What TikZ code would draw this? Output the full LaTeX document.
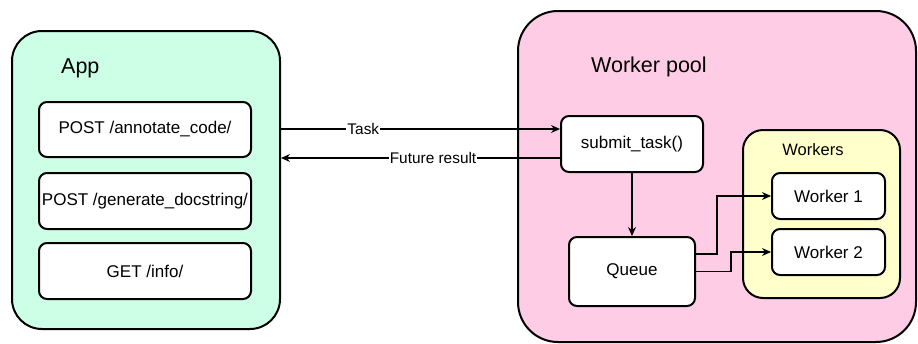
\documentclass[tikz,border=0pt]{standalone}
\usepackage{fontspec}
\setmainfont{Liberation Sans}
\usetikzlibrary{calc,arrows.meta}
\definecolor{mint}{HTML}{CCFFE6}
\definecolor{pinkfill}{HTML}{FFCCE6}
\definecolor{yellowfill}{HTML}{FFFFCC}
\tikzset{
  group/.style={draw=black, line width=2pt, rounded corners=#1},
  group/.default=30pt,
  boxnode/.style={draw=black, fill=white, line width=2pt, rounded corners=8pt, inner sep=0pt,
    font=\fontsize{17}{19}\selectfont},
  title/.style={font=\fontsize{21.5}{24}\selectfont, inner sep=0pt, anchor=west},
  arr/.style={line width=1.1pt, -{Stealth[length=9pt,width=8pt]}},
  elabel/.style={fill=white, inner sep=1pt, font=\fontsize{15.4}{17}\selectfont},
}
\begin{document}
\begin{tikzpicture}[x=1pt,y=-1pt]
\useasboundingbox (0,0) rectangle (918,343);
% App group
\node[group, fill=mint, minimum width=268pt, minimum height=298pt] (App) at (146,180) {};
\node[title] (apptitle) at (61,68) {App};
\node[boxnode, minimum width=212pt, minimum height=55pt] (b1) at (145,129.5) {POST /annotate\_code/};
\node[boxnode, minimum width=212pt, minimum height=56pt] (b2) at (145,201) {POST /generate\_docstring/};
\node[boxnode, minimum width=212pt, minimum height=56pt] (b3) at (145,271) {GET /info/};
% Worker pool
\node[group=40pt, fill=pinkfill, minimum width=398pt, minimum height=331pt] (pool) at (717,176.5) {};
\node[title] (pooltitle) at (591,67) {Worker pool};
\node[boxnode, minimum width=142pt, minimum height=56pt] (submit) at (632,144) {submit\_task()};
\node[boxnode, minimum width=126pt, minimum height=69pt] (queue) at (632,271.5) {Queue};
\node[group=20pt, fill=yellowfill, minimum width=157pt, minimum height=168pt] (workers) at (821.5,214) {};
\node[font=\fontsize{16.5}{18}\selectfont, inner sep=0pt] (wtitle) at (813,150) {Workers};
\node[boxnode, minimum width=113pt, minimum height=46pt] (w1) at (828.5,196) {Worker 1};
\node[boxnode, minimum width=113pt, minimum height=46pt] (w2) at (828.5,252) {Worker 2};
% connectors
\coordinate (tin) at ($(submit.west)+(0,-15)$);
\coordinate (fout) at ($(submit.west)+(0,14)$);
\draw[arr] (App.east |- tin) -- node[elabel, pos=0.295] {Task} (tin);
\draw[arr] (fout) -- node[elabel, pos=0.455] {Future result} (App.east |- fout);
\draw[arr] (submit.south) -- (queue.north);
\coordinate (q1) at ($(queue.east)+(0,-17.5)$);
\draw[arr] (q1) -- ($(q1)+(21,0)$) |- (w1.west);
\draw[arr] (queue.east) -- ($(queue.east)+(35,0)$) |- (w2.west);
\end{tikzpicture}
\end{document}
